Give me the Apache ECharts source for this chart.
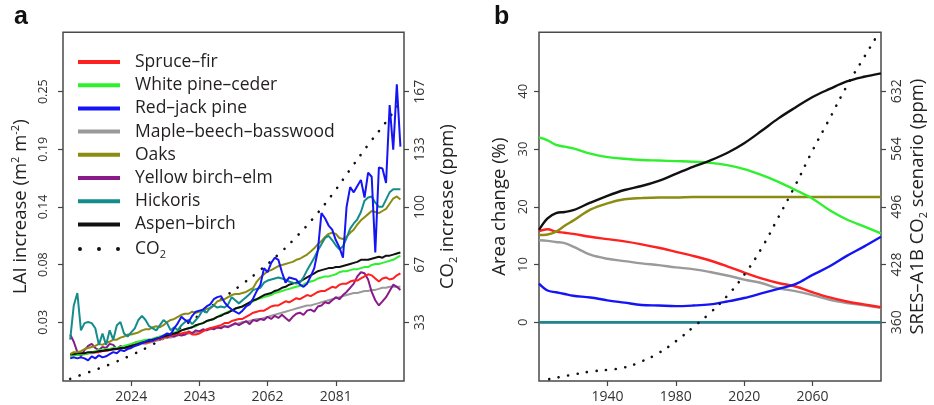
<!DOCTYPE html>
<html><head><meta charset="utf-8">
<script src="https://cdn.jsdelivr.net/npm/echarts@6/dist/echarts.min.js"></script>
<style>html,body{margin:0;padding:0;background:#fff}#c{width:934px;height:405px}</style>
</head><body><div id="c"></div>
<script>
// ---------- Panel a: LAI increase (m2 m-2), annual ----------
const yearsA = [2007,2008,2009,2010,2011,2012,2013,2014,2015,2016,2017,2018,2019,2020,2021,2022,2023,2024,2025,2026,2027,2028,2029,2030,2031,2032,2033,2034,2035,2036,2037,2038,2039,2040,2041,2042,2043,2044,2045,2046,2047,2048,2049,2050,2051,2052,2053,2054,2055,2056,2057,2058,2059,2060,2061,2062,2063,2064,2065,2066,2067,2068,2069,2070,2071,2072,2073,2074,2075,2076,2077,2078,2079,2080,2081,2082,2083,2084,2085,2086,2087,2088,2089,2090,2091,2092,2093,2094,2095,2096,2097,2098,2099];
const spruceFir = [-0.004,-0.004,-0.003,-0.003,-0.002,-0.002,-0.001,-0.001,-0.001,0.000,0.000,0.001,0.002,0.002,0.003,0.003,0.004,0.005,0.006,0.007,0.008,0.008,0.009,0.010,0.011,0.012,0.013,0.014,0.015,0.016,0.017,0.017,0.018,0.018,0.016,0.016,0.017,0.019,0.021,0.022,0.023,0.024,0.025,0.027,0.027,0.029,0.030,0.031,0.031,0.033,0.035,0.037,0.038,0.039,0.039,0.041,0.043,0.044,0.044,0.046,0.048,0.047,0.049,0.051,0.050,0.052,0.054,0.053,0.055,0.057,0.058,0.058,0.060,0.062,0.061,0.064,0.065,0.065,0.067,0.068,0.068,0.070,0.072,0.074,0.073,0.070,0.067,0.070,0.071,0.069,0.070,0.073,0.075];
const whitePine = [-0.005,-0.004,-0.004,-0.003,-0.003,-0.002,-0.001,0.000,0.001,0.001,0.002,0.002,0.003,0.003,0.004,0.005,0.006,0.007,0.008,0.009,0.010,0.011,0.011,0.012,0.013,0.014,0.015,0.016,0.016,0.018,0.019,0.020,0.021,0.022,0.023,0.024,0.026,0.027,0.029,0.030,0.031,0.033,0.035,0.036,0.038,0.039,0.041,0.042,0.043,0.045,0.046,0.048,0.050,0.051,0.052,0.053,0.054,0.056,0.057,0.058,0.059,0.060,0.061,0.062,0.063,0.064,0.066,0.067,0.068,0.070,0.071,0.072,0.072,0.073,0.074,0.076,0.077,0.077,0.078,0.079,0.079,0.080,0.081,0.081,0.083,0.084,0.084,0.085,0.086,0.087,0.088,0.090,0.092];
const redJack = [-0.007,-0.006,-0.007,-0.006,-0.007,-0.009,-0.005,-0.007,-0.004,-0.006,-0.005,-0.003,-0.001,-0.002,0.001,0.000,0.002,0.003,0.005,0.006,0.008,0.009,0.011,0.010,0.012,0.013,0.015,0.017,0.016,0.022,0.027,0.033,0.030,0.028,0.034,0.038,0.039,0.040,0.043,0.045,0.050,0.052,0.053,0.047,0.043,0.040,0.038,0.036,0.039,0.043,0.045,0.051,0.058,0.064,0.080,0.076,0.085,0.090,0.088,0.076,0.066,0.071,0.070,0.069,0.064,0.062,0.065,0.072,0.080,0.097,0.133,0.128,0.121,0.117,0.107,0.100,0.090,0.139,0.158,0.153,0.159,0.165,0.148,0.172,0.168,0.095,0.177,0.176,0.162,0.237,0.194,0.257,0.197];
const mapleBeech = [-0.004,-0.004,-0.003,-0.003,-0.003,-0.002,-0.002,-0.001,-0.001,0.000,0.000,0.001,0.001,0.002,0.002,0.003,0.003,0.004,0.005,0.006,0.007,0.007,0.008,0.009,0.010,0.011,0.012,0.013,0.013,0.014,0.015,0.016,0.016,0.017,0.018,0.018,0.019,0.020,0.020,0.021,0.022,0.022,0.023,0.024,0.024,0.025,0.026,0.027,0.028,0.028,0.029,0.030,0.031,0.031,0.032,0.033,0.034,0.035,0.036,0.037,0.038,0.039,0.040,0.041,0.042,0.043,0.044,0.044,0.045,0.046,0.047,0.048,0.049,0.050,0.051,0.052,0.053,0.054,0.055,0.056,0.056,0.057,0.058,0.058,0.059,0.059,0.060,0.061,0.061,0.062,0.062,0.062,0.062];
const oaks = [-0.003,-0.001,-0.001,0.000,0.002,0.003,0.004,0.005,0.007,0.006,0.008,0.009,0.011,0.011,0.013,0.014,0.016,0.016,0.017,0.018,0.020,0.021,0.021,0.023,0.024,0.023,0.025,0.028,0.030,0.031,0.033,0.035,0.036,0.036,0.038,0.037,0.038,0.039,0.041,0.041,0.044,0.048,0.049,0.050,0.052,0.054,0.055,0.055,0.056,0.057,0.059,0.061,0.067,0.071,0.074,0.077,0.078,0.080,0.082,0.083,0.084,0.085,0.086,0.088,0.089,0.091,0.093,0.096,0.099,0.103,0.106,0.110,0.113,0.114,0.113,0.109,0.108,0.110,0.114,0.117,0.122,0.126,0.129,0.132,0.135,0.134,0.133,0.135,0.137,0.142,0.147,0.149,0.146];
const yellowBirch = [0.016,0.009,-0.001,-0.005,0.001,0.005,0.007,0.003,0.001,0.004,0.003,0.007,0.006,0.002,0.005,0.003,0.004,0.006,0.008,0.009,0.008,0.010,0.009,0.011,0.013,0.011,0.014,0.013,0.015,0.014,0.016,0.015,0.016,0.019,0.017,0.020,0.019,0.021,0.020,0.022,0.021,0.023,0.022,0.024,0.023,0.025,0.027,0.025,0.027,0.029,0.026,0.030,0.029,0.031,0.030,0.033,0.031,0.034,0.032,0.035,0.032,0.029,0.033,0.036,0.037,0.035,0.039,0.040,0.038,0.043,0.044,0.047,0.046,0.049,0.052,0.050,0.054,0.057,0.061,0.065,0.072,0.076,0.075,0.069,0.057,0.049,0.044,0.048,0.052,0.058,0.064,0.062,0.059];
const hickoris = [0.011,0.044,0.056,0.020,0.027,0.028,0.027,0.022,0.006,0.017,0.006,0.020,0.011,0.025,0.028,0.017,0.014,0.018,0.022,0.030,0.034,0.030,0.024,0.022,0.020,0.025,0.030,0.027,0.020,0.023,0.020,0.025,0.028,0.030,0.026,0.030,0.034,0.040,0.037,0.042,0.044,0.042,0.043,0.042,0.045,0.052,0.049,0.046,0.049,0.052,0.055,0.059,0.060,0.061,0.066,0.068,0.069,0.070,0.071,0.070,0.069,0.067,0.066,0.065,0.066,0.071,0.078,0.084,0.090,0.097,0.103,0.109,0.111,0.107,0.102,0.098,0.101,0.109,0.118,0.123,0.127,0.134,0.145,0.148,0.149,0.143,0.139,0.139,0.146,0.153,0.156,0.156,0.156];
const aspenBirch = [-0.003,-0.003,-0.002,-0.002,-0.002,-0.001,-0.001,-0.001,0.000,0.000,0.001,0.001,0.002,0.002,0.003,0.003,0.004,0.005,0.006,0.007,0.008,0.009,0.010,0.011,0.012,0.013,0.014,0.015,0.016,0.017,0.018,0.020,0.021,0.022,0.023,0.025,0.026,0.027,0.029,0.030,0.031,0.033,0.034,0.036,0.037,0.039,0.041,0.042,0.043,0.045,0.047,0.049,0.050,0.052,0.054,0.055,0.056,0.058,0.059,0.061,0.062,0.064,0.065,0.066,0.067,0.069,0.071,0.073,0.075,0.077,0.078,0.079,0.080,0.080,0.081,0.081,0.082,0.083,0.084,0.085,0.086,0.088,0.088,0.088,0.089,0.090,0.091,0.090,0.092,0.092,0.093,0.094,0.095];
// CO2 increase (ppm), right axis of panel a
const co2YearsA = [2007,2010,2015,2020,2025,2030,2035,2040,2045,2050,2055,2060,2065,2070,2075,2080,2085,2090,2095,2099];
const co2A = [0.6,2.9,6.6,10.7,15.3,20.5,26.6,33.2,40.5,48.0,55.5,63.6,72.5,82.7,94.2,107.2,121.7,135.9,149.2,160.7];
// ticks panel a
const xTicksA = [2024,2043,2062,2081];
const laiTicks = [0.027778,0.083333,0.138889,0.194444,0.25];
const laiTickLabels = ['0.03','0.08','0.14','0.19','0.25'];
const co2TicksA = [33.333,66.667,100,133.333,166.667];
const co2TickLabelsA = ['33','67','100','133','167'];

// ---------- Panel b: Area change (%) ----------
const yearsB = [1900,1905,1910,1915,1920,1930,1940,1950,1960,1970,1980,1990,2000,2010,2020,2030,2040,2050,2060,2070,2080,2090,2100];
const areaSpruce = [15.8,16.1,15.7,15.5,15.3,14.8,14.4,14.0,13.5,12.9,12.2,11.5,10.7,9.7,8.6,7.6,6.8,6.2,5.2,4.3,3.6,3.1,2.6];
const areaWhitePine = [32.0,31.5,30.7,30.4,30.1,29.2,28.6,28.3,28.1,28.0,27.9,27.8,27.6,27.2,26.5,25.5,24.3,22.9,21.4,19.4,17.8,16.6,15.4];
const areaRedJack = [6.7,5.5,5.2,4.9,4.6,4.3,3.8,3.4,3.0,2.9,2.8,2.9,3.1,3.6,4.2,5.0,5.8,6.6,8.2,9.7,11.5,13.1,14.8];
const areaMaple = [14.2,14.1,13.9,13.7,13.1,11.7,11.0,10.6,10.2,9.9,9.5,9.2,8.7,8.1,7.4,6.8,5.9,5.4,4.7,3.9,3.35,2.95,2.5];
const areaOaks = [15.1,15.2,15.7,16.7,17.6,19.5,20.6,21.3,21.5,21.6,21.6,21.7,21.7,21.7,21.7,21.7,21.7,21.7,21.7,21.7,21.7,21.7,21.7];
const areaYellow = [0,0,0,0,0,0,0,0,0,0,0,0,0,0,0,0,0,0,0,0,0,0,0];
const areaHickoris = [0,0,0,0,0,0,0,0,0,0,0,0,0,0,0,0,0,0,0,0,0,0,0];
const areaAspen = [16.0,18.0,18.9,19.1,19.4,20.7,21.9,22.9,23.6,24.5,25.7,26.9,28.0,29.3,31.0,33.1,35.3,37.2,39.0,40.4,41.7,42.5,43.1];
const co2YearsB = [1906,1920,1930,1940,1950,1960,1970,1980,1990,2000,2010,2020,2030,2040,2050,2060,2070,2080,2090,2097];
const co2B = [293.1,298.5,301.9,304.0,306.9,314.0,323.9,337.7,354.0,371.0,391.0,416.0,446.7,483.7,521.8,562.3,600.0,638.1,671.6,695.0];
const xTicksB = [1940,1980,2020,2060];
const areaTicks = [0,10,20,30,40];
const ppmTicks = [360,428,496,564,632];

const names = ['Spruce–fir','White pine–ceder','Red–jack pine','Maple–beech–basswood','Oaks','Yellow birch–elm','Hickoris','Aspen–birch','CO2'];
const colors = ['#ff2020','#2ff02f','#1414f5','#9a9a9a','#8c8c12','#8a1a8a','#148c8c','#111111','#111111'];

const FONT = "'Open Sans', 'Noto Sans', sans-serif";
const pairs = (xs, ys) => xs.map((x, i) => [x, ys[i]]);
const nearestLabel = (ticks, labels) => v => {
  let b = 0; for (let i = 1; i < ticks.length; i++) if (Math.abs(ticks[i]-v) < Math.abs(ticks[b]-v)) b = i;
  return labels[b];
};
const plain = v => String(Math.round(v));
const tick = {show:true, length:5, lineStyle:{color:'#444', width:1.2}};
const noLine = {show:false, onZero:false};
const lab = (size, margin) => ({fontFamily:FONT, fontSize:size, color:'#333', margin:margin});
const nameStyle = {fontFamily:FONT, fontSize:18.5, lineHeight:22, color:'#222',
  rich:{sup:{fontFamily:FONT, fontSize:11, lineHeight:11, padding:[0,0,11,0], color:'#222'},
        sub:{fontFamily:FONT, fontSize:11, lineHeight:11, padding:[11,0,0,0], color:'#222'}}};

const chart = echarts.init(document.getElementById('c'), null, {renderer:'canvas'});
const lineA = (idx, data, z) => ({name:names[idx], type:'line', xAxisIndex:0, yAxisIndex:0, data:pairs(yearsA, data),
  symbol:'none', showSymbol:false, color:colors[idx], lineStyle:{width:2, color:colors[idx]}, z:z, animation:false});
const lineB = (idx, data, z) => ({name:'b ' + names[idx], type:'line', xAxisIndex:1, yAxisIndex:2, data:pairs(yearsB, data),
  smooth:0.35, symbol:'none', showSymbol:false, color:colors[idx], lineStyle:{width:2.4, color:colors[idx]}, z:z, animation:false});

chart.setOption({
  animation:false,
  backgroundColor:'#fff',
  graphic:[
    {type:'text', left:14, top:5, style:{text:'a', font:'bold 25px "Liberation Sans", Arial, sans-serif', fill:'#111'}},
    {type:'text', left:494, top:5, style:{text:'b', font:'bold 25px "Liberation Sans", Arial, sans-serif', fill:'#111'}}
  ],
  grid:[
    {left:63, top:32.3, width:341, height:348.7, show:true, borderColor:'#4a4a4a', borderWidth:1.5, backgroundColor:'transparent'},
    {left:539, top:32.3, width:342, height:348.7, show:true, borderColor:'#4a4a4a', borderWidth:1.5, backgroundColor:'transparent'}
  ],
  xAxis:[
    {gridIndex:0, type:'value', min:2005, max:2100, axisLine:noLine, splitLine:{show:false},
     axisTick:Object.assign({customValues:xTicksA}, tick), axisLabel:Object.assign({customValues:xTicksA, formatter:plain}, lab(14, 9))},
    {gridIndex:1, type:'value', min:1900, max:2100, axisLine:noLine, splitLine:{show:false},
     axisTick:Object.assign({customValues:xTicksB}, tick), axisLabel:Object.assign({customValues:xTicksB, formatter:plain}, lab(14, 9))}
  ],
  yAxis:[
    {gridIndex:0, type:'value', position:'left', min:-0.0288, max:0.3072, axisLine:noLine, splitLine:{show:false},
     axisTick:Object.assign({customValues:laiTicks}, tick),
     axisLabel:Object.assign({customValues:laiTicks, rotate:90, formatter:nearestLabel(laiTicks, laiTickLabels)}, lab(12.5, 13)),
     name:'LAI increase (m{sup|2} m{sup|-2})', nameLocation:'middle', nameRotate:90, nameGap:31, nameTextStyle:nameStyle},
    {gridIndex:0, type:'value', position:'right', min:-0.61, max:200.99, axisLine:noLine, splitLine:{show:false},
     axisTick:Object.assign({customValues:co2TicksA}, tick),
     axisLabel:Object.assign({customValues:co2TicksA, rotate:90, formatter:nearestLabel(co2TicksA, co2TickLabelsA)}, lab(14, 9)),
     name:'CO{sub|2} increase (ppm)', nameLocation:'middle', nameRotate:90, nameGap:33, nameTextStyle:nameStyle},
    {gridIndex:1, type:'value', position:'left', min:-10.16, max:50.2, axisLine:noLine, splitLine:{show:false},
     axisTick:Object.assign({customValues:areaTicks}, tick),
     axisLabel:Object.assign({customValues:areaTicks, rotate:90, formatter:plain}, lab(13, 9)),
     name:'Area change (%)', nameLocation:'middle', nameRotate:90, nameGap:28, nameTextStyle:nameStyle},
    {gridIndex:1, type:'value', position:'right', min:290.9, max:701.4, axisLine:noLine, splitLine:{show:false},
     axisTick:Object.assign({customValues:ppmTicks}, tick),
     axisLabel:Object.assign({customValues:ppmTicks, rotate:90, formatter:plain}, lab(14, 9)),
     name:'SRES–A1B CO{sub|2} scenario (ppm)', nameLocation:'middle', nameRotate:90, nameGap:26, nameTextStyle:nameStyle}
  ],
  legend:{
    left:78, top:52, orient:'vertical', itemWidth:42, itemHeight:4, itemGap:3.2, padding:0, selectedMode:false,
    itemStyle:{borderWidth:0},
    textStyle:{fontFamily:FONT, fontSize:17.5, lineHeight:20, color:'#231f20', padding:[0,0,0,10],
      rich:{co:{fontFamily:FONT, fontSize:17.5, lineHeight:20, color:'#231f20'},
            sb:{fontFamily:FONT, fontSize:11, lineHeight:12, padding:[12,0,0,0], color:'#231f20'}}},
    formatter: n => n === 'CO2' ? '{co|CO}{sb|2}' : n,
    data: names.map(n => n === 'CO2'
      ? {name:n, icon:'path://M0,2a2,2 0 1,0 4,0a2,2 0 1,0 -4,0M19,2a2,2 0 1,0 4,0a2,2 0 1,0 -4,0M38,2a2,2 0 1,0 4,0a2,2 0 1,0 -4,0'}
      : {name:n, icon:'rect'})
  },
  series:[
    {name:'CO2', type:'line', xAxisIndex:0, yAxisIndex:1, data:pairs(co2YearsA, co2A), smooth:true, symbol:'none', showSymbol:false,
     color:'#111', lineStyle:{width:2.6, color:'#111', type:[0.1, 10], cap:'round'}, z:2},
    lineA(3, mapleBeech, 3), lineA(5, yellowBirch, 4), lineA(0, spruceFir, 5), lineA(1, whitePine, 6),
    lineA(7, aspenBirch, 7), lineA(4, oaks, 8), lineA(6, hickoris, 9), lineA(2, redJack, 10),
    lineB(5, areaYellow, 3), lineB(6, areaHickoris, 4), lineB(3, areaMaple, 5), lineB(0, areaSpruce, 6),
    lineB(2, areaRedJack, 7), lineB(4, areaOaks, 8), lineB(1, areaWhitePine, 9), lineB(7, areaAspen, 10),
    {name:'b CO2', type:'line', xAxisIndex:1, yAxisIndex:3, data:pairs(co2YearsB, co2B), smooth:true, symbol:'none', showSymbol:false,
     color:'#111', lineStyle:{width:2.6, color:'#111', type:[0.1, 9.5], cap:'round'}, z:11}
  ]
});
</script>
</body></html>
